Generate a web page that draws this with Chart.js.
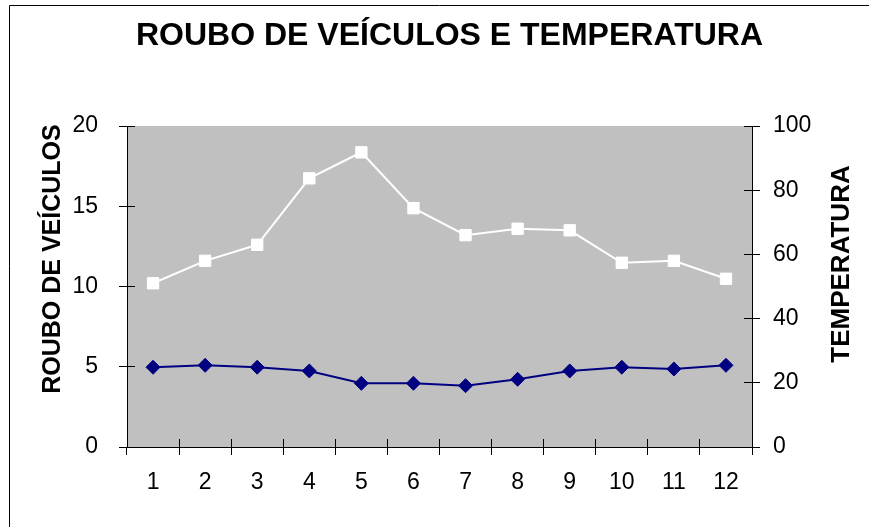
<!DOCTYPE html>
<html>
<head>
<meta charset="utf-8">
<title>Roubo de veículos e temperatura</title>
<script src="https://cdn.jsdelivr.net/npm/chart.js@4.4.0/dist/chart.umd.min.js"></script>
<style>
  html, body { margin: 0; padding: 0; background: #fff; }
  #wrap { width: 869px; height: 527px; }
</style>
</head>
<body>
<div id="wrap"><canvas id="myChart" width="869" height="527"></canvas></div>
<script>
// dados
const meses = ['1', '2', '3', '4', '5', '6', '7', '8', '9', '10', '11', '12'];
const roubos = [4.97, 5.09, 4.97, 4.74, 3.97, 3.97, 3.82, 4.22, 4.74, 4.97, 4.86, 5.09];
const temperatura = [51.0, 58.0, 63.0, 83.7, 91.8, 74.4, 66.0, 68.0, 67.5, 57.4, 58.0, 52.4];

// limites dos eixos
const rouboMax = 20, rouboPasso = 5;
const tempMax = 100, tempPasso = 20;

const titulo = 'ROUBO DE VEÍCULOS E TEMPERATURA';
const tituloEsq = 'ROUBO DE VEÍCULOS';
const tituloDir = 'TEMPERATURA';

const FONTE = '"Liberation Sans", Arial, Helvetica, sans-serif';
Chart.defaults.font.family = FONTE;
Chart.defaults.color = '#000';

// fundo cinza da area de plotagem + moldura do grafico
const fundo = {
  id: 'fundo',
  beforeDraw(chart) {
    const {ctx, chartArea: {left, top, width, height}} = chart;
    ctx.save();
    ctx.fillStyle = '#c0c0c0';
    ctx.fillRect(left, top, width, height);
    ctx.strokeStyle = '#000';
    ctx.lineWidth = 1;
    ctx.beginPath();
    ctx.moveTo(9.5, chart.height);
    ctx.lineTo(9.5, 5.5);
    ctx.lineTo(chart.width, 5.5);
    ctx.stroke();
    ctx.restore();
  }
};

// parte interna das marcas dos eixos (cruzando a linha do eixo)
const alinha = p => Math.round(p - 0.5) + 0.5;
const marcas = {
  id: 'marcas',
  beforeDatasetsDraw(chart) {
    const {ctx, chartArea: {left, right, bottom}, scales: {x, y, y1}} = chart;
    ctx.save();
    ctx.strokeStyle = '#000';
    ctx.lineWidth = 1;
    ctx.beginPath();
    for (let i = 0; i <= meses.length; i++) {
      const px = alinha(x.getPixelForValue(i - 0.5));
      ctx.moveTo(px, bottom);
      ctx.lineTo(px, bottom - 8);
    }
    y.ticks.forEach(t => {
      const py = alinha(y.getPixelForValue(t.value));
      ctx.moveTo(left, py);
      ctx.lineTo(left + 8, py);
    });
    y1.ticks.forEach(t => {
      const py = alinha(y1.getPixelForValue(t.value));
      ctx.moveTo(right, py);
      ctx.lineTo(right - 8, py);
    });
    ctx.stroke();
    ctx.restore();
  }
};

// titulo principal e titulos dos eixos
const textos = {
  id: 'textos',
  afterDraw(chart) {
    const ctx = chart.ctx;
    ctx.save();
    ctx.fillStyle = '#000';
    ctx.textAlign = 'center';
    ctx.textBaseline = 'alphabetic';

    ctx.font = 'bold 32px ' + FONTE;
    ctx.fillText(titulo, 449.5, 34 + 32 * 0.358);

    ctx.font = 'bold 25px ' + FONTE;
    ctx.save();
    ctx.translate(51, 259);
    ctx.rotate(-Math.PI / 2);
    ctx.fillText(tituloEsq, 0, 25 * 0.358);
    ctx.restore();

    ctx.font = 'bold 26px ' + FONTE;
    ctx.save();
    ctx.translate(839.5, 264);
    ctx.rotate(-Math.PI / 2);
    ctx.fillText(tituloDir, 0, 26 * 0.358);
    ctx.restore();

    ctx.restore();
  }
};

const eixoGrid = {
  drawOnChartArea: false,
  drawTicks: true,
  tickLength: 8,
  color: '#000',
  lineWidth: 1
};

const config = {
  type: 'line',
  data: {
    labels: meses,
    datasets: [
      {
        label: tituloEsq,
        data: roubos,
        yAxisID: 'y',
        borderColor: '#000080',
        backgroundColor: '#000080',
        borderWidth: 2,
        pointStyle: 'rectRot',
        pointRadius: 7,
        pointBorderWidth: 1,
        tension: 0
      },
      {
        label: tituloDir,
        data: temperatura,
        yAxisID: 'y1',
        borderColor: '#ffffff',
        backgroundColor: '#ffffff',
        borderWidth: 2,
        pointStyle: 'rect',
        pointRadius: 8,
        pointBorderWidth: 1,
        tension: 0
      }
    ]
  },
  options: {
    responsive: false,
    animation: false,
    layout: { padding: { top: 126, left: 0, right: 0, bottom: 0 } },
    plugins: {
      legend: { display: false },
      title: { display: false },
      tooltip: { enabled: false }
    },
    scales: {
      x: {
        offset: true,
        grid: Object.assign({ offset: true }, eixoGrid),
        border: { color: '#000', width: 1 },
        ticks: { font: { size: 23 }, padding: 14, maxRotation: 0 },
        afterFit(s) { s.height = 80; }
      },
      y: {
        position: 'left',
        min: 0,
        max: rouboMax,
        grid: eixoGrid,
        border: { color: '#000', width: 1 },
        ticks: { stepSize: rouboPasso, font: { size: 23 }, padding: 21 },
        afterFit(s) { s.width = 127; }
      },
      y1: {
        position: 'right',
        min: 0,
        max: tempMax,
        grid: eixoGrid,
        border: { color: '#000', width: 1 },
        ticks: { stepSize: tempPasso, font: { size: 23 }, padding: 13 },
        afterFit(s) { s.width = 117; }
      }
    }
  },
  plugins: [fundo, marcas, textos]
};

const myChart = new Chart(document.getElementById('myChart'), config);
</script>
</body>
</html>
